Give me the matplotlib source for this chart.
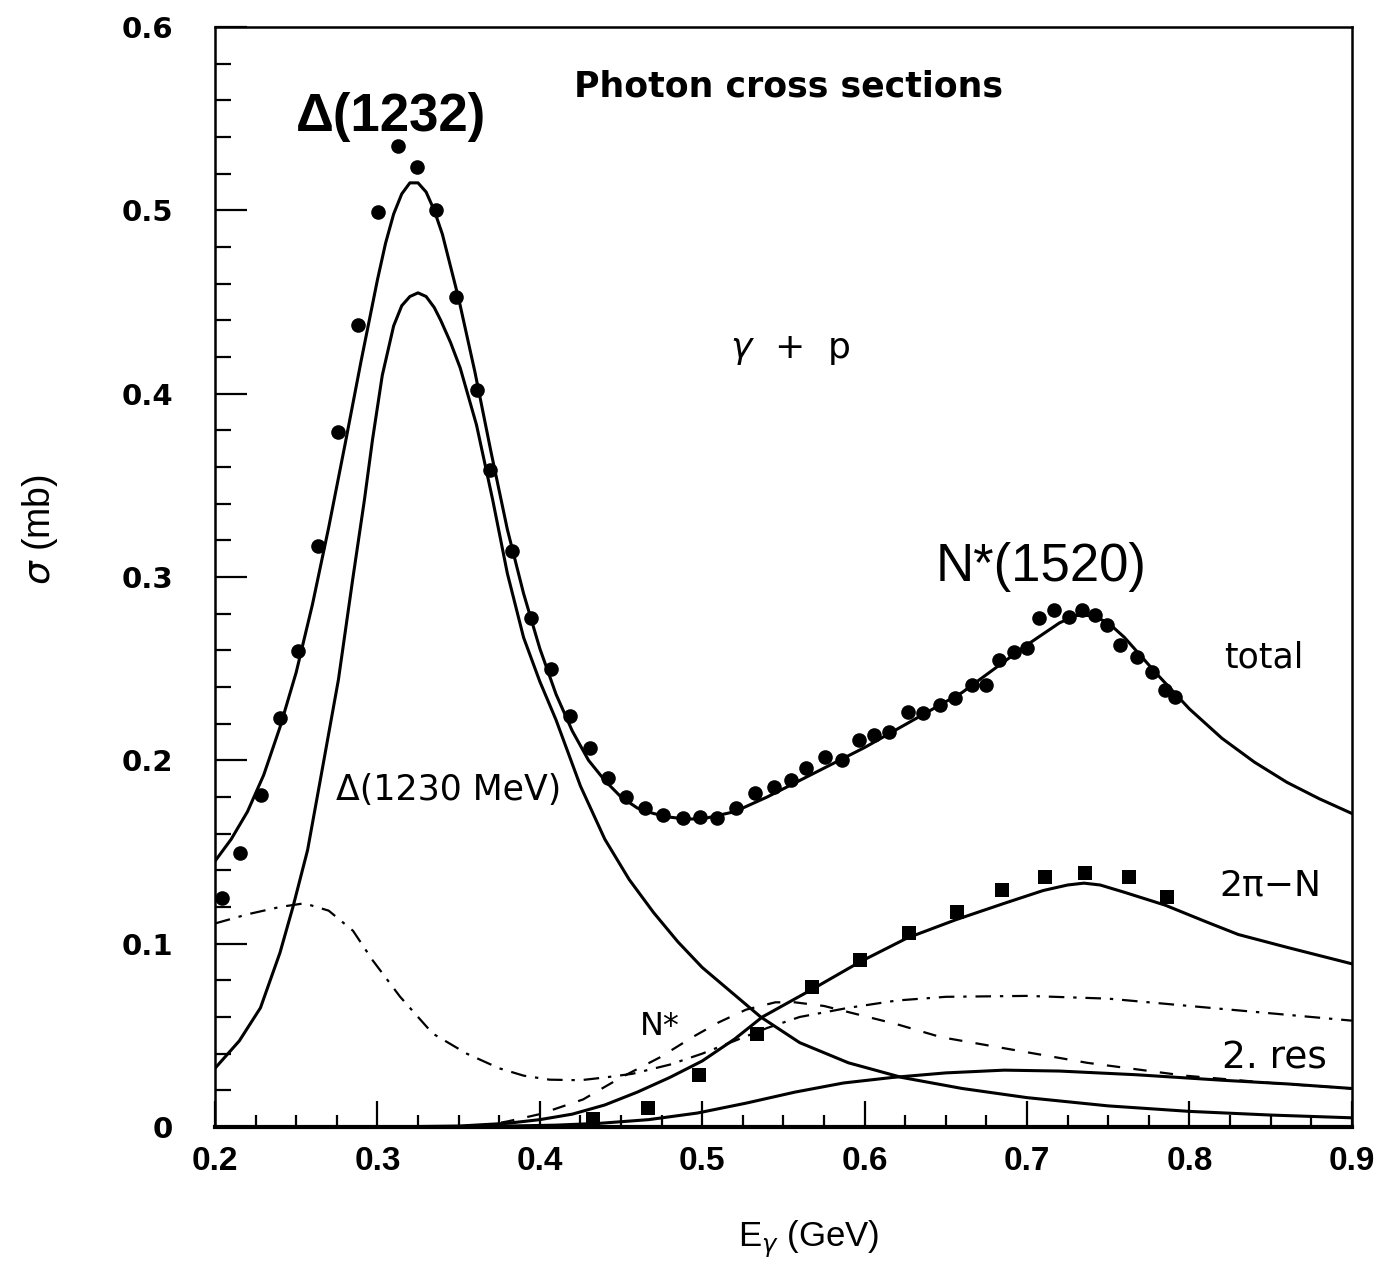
import matplotlib
matplotlib.use("Agg")
import matplotlib.pyplot as plt
from matplotlib.ticker import MultipleLocator, FixedLocator
import numpy as np

# ---- data: total cross section measurements (circles) ----
tot_x = [0.2043, 0.2154, 0.2283, 0.2400, 0.2511, 0.2634, 0.2757, 0.2880, 0.3003, 0.3127,
         0.3244, 0.3361, 0.3484, 0.3613, 0.3693, 0.3828, 0.3945, 0.4069, 0.4186, 0.4309,
         0.4419, 0.4530, 0.4647, 0.4758, 0.4881, 0.4986, 0.5091, 0.5208, 0.5324, 0.5441,
         0.5546, 0.5638, 0.5755, 0.5860, 0.5965, 0.6057, 0.6149, 0.6266, 0.6359, 0.6463,
         0.6556, 0.6660, 0.6747, 0.6827, 0.6919, 0.6999, 0.7073, 0.7165, 0.7258, 0.7338,
         0.7418, 0.7492, 0.7572, 0.7676, 0.7769, 0.7849, 0.7910]
tot_y = [0.1249, 0.1495, 0.1811, 0.2231, 0.2596, 0.3169, 0.3791, 0.4375, 0.4991, 0.5351,
         0.5236, 0.5002, 0.4527, 0.4020, 0.3584, 0.3142, 0.2776, 0.2498, 0.2242, 0.2067,
         0.1904, 0.1800, 0.1740, 0.1702, 0.1685, 0.1691, 0.1685, 0.1740, 0.1822, 0.1855,
         0.1893, 0.1958, 0.2018, 0.2002, 0.2111, 0.2138, 0.2155, 0.2264, 0.2258, 0.2302,
         0.2340, 0.2411, 0.2411, 0.2547, 0.2591, 0.2613, 0.2776, 0.2820, 0.2782, 0.2820,
         0.2793, 0.2738, 0.2629, 0.2564, 0.2482, 0.2384, 0.2346]

# ---- data: 2pi-N measurements (squares) ----
pipi_x = [0.4327, 0.4666, 0.4980, 0.5337, 0.5675, 0.5971, 0.6273, 0.6568, 0.6845, 0.7110,
          0.7356, 0.7627, 0.7861]
pipi_y = [0.0044, 0.0104, 0.0284, 0.0507, 0.0764, 0.0911, 0.1058, 0.1173, 0.1293, 0.1364,
          0.1385, 0.1364, 0.1255]

# ---- model curves ----
total_cx = [0.20, 0.21, 0.22, 0.23, 0.24, 0.25, 0.26, 0.27, 0.28, 0.29, 0.30, 0.305, 0.31,
            0.315, 0.32, 0.325, 0.33, 0.335, 0.34, 0.35, 0.36, 0.37,
            0.38, 0.39, 0.40, 0.41, 0.42, 0.43, 0.44, 0.45, 0.46, 0.47, 0.48, 0.49, 0.50,
            0.52, 0.54, 0.56, 0.58, 0.60, 0.62, 0.64, 0.66, 0.68, 0.70, 0.71, 0.72, 0.73,
            0.74, 0.75, 0.76, 0.77, 0.78, 0.80, 0.82, 0.84, 0.86, 0.88, 0.90]
total_cy = [0.145, 0.157, 0.172, 0.192, 0.218, 0.248, 0.285, 0.327, 0.372, 0.418, 0.462,
            0.482, 0.498, 0.509, 0.515, 0.515, 0.510, 0.500, 0.487, 0.452,
            0.412, 0.368, 0.326, 0.291, 0.261, 0.236, 0.216, 0.200, 0.189, 0.180, 0.174,
            0.171, 0.169, 0.168, 0.168, 0.172, 0.180, 0.189, 0.198, 0.207, 0.217, 0.227,
            0.237, 0.250, 0.263, 0.269, 0.275, 0.279, 0.279, 0.275, 0.267, 0.257, 0.247,
            0.228, 0.212, 0.199, 0.188, 0.179, 0.171]

delta_cx = [0.200, 0.215, 0.228, 0.240, 0.248, 0.257, 0.265, 0.276, 0.285, 0.292, 0.297,
            0.303, 0.310, 0.315, 0.320, 0.325, 0.330, 0.335, 0.339, 0.345, 0.351, 0.361,
            0.371, 0.380, 0.390, 0.400, 0.410, 0.425, 0.440, 0.455, 0.470, 0.485, 0.500,
            0.520, 0.536, 0.560, 0.590, 0.623, 0.660, 0.700, 0.750, 0.800, 0.850, 0.900]
delta_cy = [0.032, 0.047, 0.065, 0.095, 0.120, 0.151, 0.190, 0.244, 0.300, 0.342, 0.375,
            0.410, 0.437, 0.448, 0.453, 0.455, 0.453, 0.447, 0.440, 0.428, 0.414, 0.383,
            0.342, 0.302, 0.267, 0.243, 0.222, 0.186, 0.157, 0.135, 0.117, 0.101, 0.087,
            0.072, 0.060, 0.046, 0.035, 0.027, 0.021, 0.016, 0.0115, 0.0085, 0.0065, 0.005]

pipi_cx = [0.30, 0.35, 0.38, 0.40, 0.42, 0.44, 0.46, 0.48, 0.50, 0.52, 0.537, 0.5675,
           0.597, 0.626, 0.656, 0.686, 0.71, 0.725, 0.735, 0.745, 0.76, 0.785, 0.81, 0.83,
           0.86, 0.90]
pipi_cy = [0.0, 0.0005, 0.002, 0.004, 0.007, 0.012, 0.019, 0.027, 0.036, 0.048, 0.060,
           0.075, 0.090, 0.103, 0.113, 0.122, 0.129, 0.132, 0.133, 0.132, 0.128, 0.121,
           0.112, 0.105, 0.098, 0.089]

res2_cx = [0.33, 0.38, 0.41, 0.437, 0.467, 0.497, 0.527, 0.557, 0.587, 0.617, 0.65, 0.686,
           0.72, 0.767, 0.82, 0.86, 0.90]
res2_cy = [0.0, 0.0005, 0.001, 0.002, 0.004, 0.0076, 0.013, 0.019, 0.024, 0.027, 0.0295,
           0.031, 0.0305, 0.0285, 0.0255, 0.0235, 0.021]

nstar_cx = [0.36, 0.38, 0.40, 0.4266, 0.45, 0.474, 0.494, 0.51, 0.527, 0.545, 0.557, 0.575,
            0.593, 0.62, 0.647, 0.692, 0.737, 0.797, 0.85, 0.90]
nstar_cy = [0.0, 0.003, 0.007, 0.015, 0.027, 0.038, 0.049, 0.057, 0.064, 0.068, 0.068,
            0.066, 0.062, 0.056, 0.049, 0.042, 0.035, 0.028, 0.024, 0.021]

bg_cx = [0.20, 0.22, 0.24, 0.255, 0.27, 0.285, 0.297, 0.314, 0.334, 0.355, 0.375, 0.39,
         0.406, 0.425, 0.44, 0.457, 0.48, 0.50, 0.52, 0.54, 0.56, 0.59, 0.62, 0.65, 0.70,
         0.75, 0.80, 0.85, 0.90]
bg_cy = [0.111, 0.116, 0.120, 0.122, 0.118, 0.107, 0.091, 0.071, 0.051, 0.040, 0.032,
         0.028, 0.0258, 0.0255, 0.027, 0.029, 0.034, 0.040, 0.047, 0.054, 0.060, 0.065,
         0.069, 0.071, 0.0715, 0.070, 0.066, 0.062, 0.058]

x_ticks = [0.2, 0.3, 0.4, 0.5, 0.6, 0.7, 0.8, 0.9]
x_ticklabels = ["0.2", "0.3", "0.4", "0.5", "0.6", "0.7", "0.8", "0.9"]
y_ticks = [0, 0.1, 0.2, 0.3, 0.4, 0.5, 0.6]
y_ticklabels = ["0", "0.1", "0.2", "0.3", "0.4", "0.5", "0.6"]

# ---- figure ----
fig = plt.figure(figsize=(13.87, 12.75), dpi=100)
ax = fig.add_axes([0.155, 0.1161, 0.8197, 0.8627])

lw = 2.2
ax.plot(total_cx, total_cy, color="black", lw=lw)
ax.plot(delta_cx, delta_cy, color="black", lw=lw)
ax.plot(pipi_cx, pipi_cy, color="black", lw=lw)
ax.plot(res2_cx, res2_cy, color="black", lw=lw)
ax.plot(nstar_cx, nstar_cy, color="black", lw=1.6, linestyle=(0, (6, 6)))
ax.plot(bg_cx, bg_cy, color="black", lw=1.6, linestyle=(0, (7, 4, 1.5, 4)))

ax.plot(tot_x, tot_y, "o", color="black", markersize=10.5, markeredgewidth=0)
ax.plot(pipi_x, pipi_y, "s", color="black", markersize=10, markeredgewidth=0)

ax.set_xlim(0.2, 0.9)
ax.set_ylim(0, 0.6)

ax.xaxis.set_major_locator(FixedLocator(x_ticks))
ax.xaxis.set_minor_locator(MultipleLocator(0.025))
ax.yaxis.set_major_locator(FixedLocator(y_ticks))
ax.yaxis.set_minor_locator(MultipleLocator(0.02))
ax.set_xticklabels(x_ticklabels)
ax.set_yticklabels(y_ticklabels)

ax.tick_params(axis="x", which="major", direction="in", length=19, width=1.6, pad=14)
ax.tick_params(axis="x", which="minor", direction="in", length=9, width=1.6)
ax.tick_params(axis="y", which="major", direction="in", length=23, width=1.6, pad=30)
ax.tick_params(axis="y", which="minor", direction="in", length=11.5, width=1.6)

for lab in ax.get_xticklabels():
    lab.set_fontfamily(["Liberation Sans Narrow", "Liberation Sans", "DejaVu Sans"])
    lab.set_fontweight("bold")
    lab.set_fontsize(24)
for lab in ax.get_yticklabels():
    lab.set_fontfamily(["DejaVu Sans"])
    lab.set_fontweight("bold")
    lab.set_fontsize(21)
    lab.set_horizontalalignment("right")

for s in ["left", "right", "top"]:
    ax.spines[s].set_linewidth(1.8)
ax.spines["bottom"].set_linewidth(3)

lf = ["Liberation Sans", "DejaVu Sans"]
df = ["DejaVu Sans"]
ax.set_xlabel(r"E$_\gamma$ (GeV)", fontsize=25, family=lf)
ax.xaxis.set_label_coords(0.522, -0.084)
ax.set_ylabel(r"$\sigma$ (mb)", fontsize=27, family=lf)
ax.yaxis.set_label_coords(-0.136, 0.543)


def px(xp):
    return 0.2 + (xp - 215) / 1624.3


def py(yp):
    return (1127 - yp) / 1833.3


ax.text(px(391), py(117), "Δ(1232)", fontsize=38,
        fontweight="bold", family=lf, ha="center", va="center")
ax.text(px(1041), py(567), "N*(1520)", fontsize=38,
        family=lf, ha="center", va="center")
ax.text(px(789), py(86), "Photon cross sections", fontsize=25,
        fontweight="bold", family=df, ha="center", va="center")
ax.text(px(790), py(350), r"$\gamma$  +  p", fontsize=26,
        family=df, ha="center", va="center")
ax.text(px(1264), py(658), "total", fontsize=25,
        family=df, ha="center", va="center")
ax.text(px(1270), py(886), "2π−N", fontsize=26,
        family=df, ha="center", va="center")
ax.text(px(1275), py(1059), "2. res", fontsize=27,
        family=df, ha="center", va="center")
ax.text(px(660), py(1027), "N*", fontsize=23,
        family=df, ha="center", va="center")
ax.text(px(449), py(790), "Δ(1230 MeV)", fontsize=25,
        family=df, ha="center", va="center")

fig.savefig("out.png", dpi=100)
